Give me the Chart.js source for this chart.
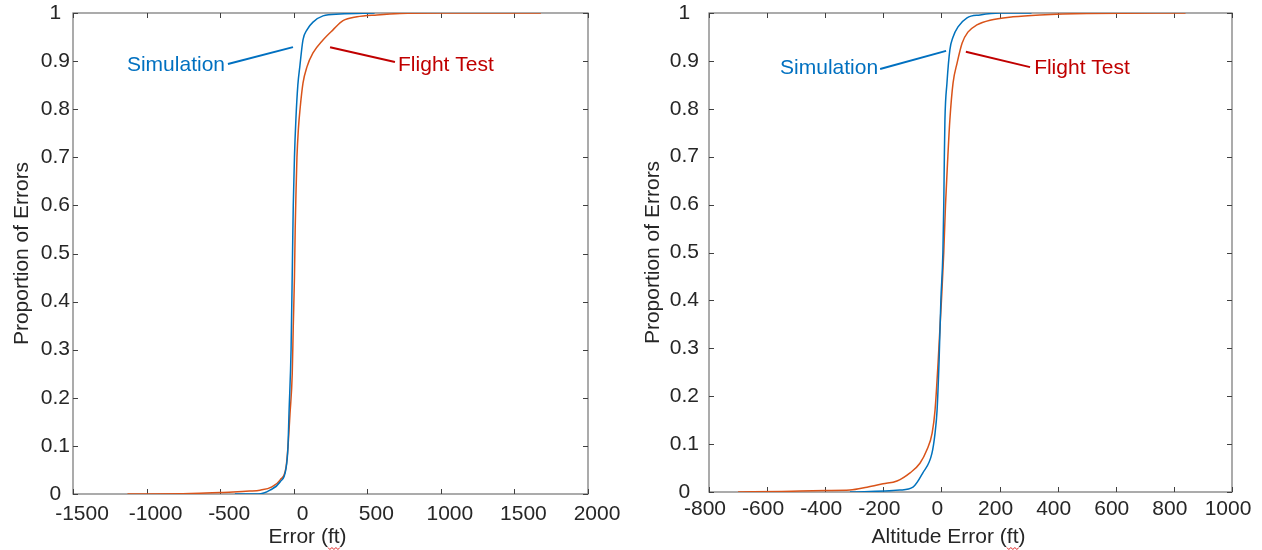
<!DOCTYPE html>
<html>
<head>
<meta charset="utf-8">
<script src="https://cdn.jsdelivr.net/npm/chart.js"></script>
<style>
  body { margin: 0; background: #fff; }
  #wrap { position: relative; width: 1262px; height: 550px; }
  #left { position: absolute; left: 0; top: 0; }
  #right { position: absolute; left: 640px; top: 0; }
</style>
</head>
<body>
<div id="wrap">
  <canvas id="left" width="640" height="550"></canvas>
  <canvas id="right" width="622" height="550"></canvas>
</div>
<script>
// left panel: error (ft) vs cumulative proportion
const simErrX = [-400, -242, -161, -93, -52, -39, -32, -18, -8, -3, 5, 15, 28, 42, 63, 90, 131, 199, 315, 550];
const simErrP = [0, 0, 0.008, 0.025, 0.054, 0.098, 0.168, 0.3, 0.5, 0.6, 0.7, 0.78, 0.85, 0.89, 0.944, 0.965, 0.981, 0.994, 0.998, 1];
const ftErrX = [-1130, -700, -500, -412, -300, -229, -148, -93, -52, -39, -25, -10, -3, 5, 10, 15, 22, 32, 43, 63, 90, 131, 199, 267, 335, 430, 566, 722, 1000, 1680];
const ftErrP = [0, 0.001, 0.003, 0.004, 0.006, 0.008, 0.015, 0.029, 0.056, 0.098, 0.168, 0.25, 0.35, 0.45, 0.55, 0.62, 0.7, 0.76, 0.8, 0.854, 0.888, 0.917, 0.944, 0.965, 0.984, 0.992, 0.996, 0.999, 1, 1];

// right panel: altitude error (ft)
const simAltX = [-315, -143, -98, -64, -33, -22, -15, -8, -2, 5, 8, 10, 12, 19, 29, 40, 57, 88, 133, 201, 310];
const simAltP = [0, 0.004, 0.01, 0.04, 0.08, 0.123, 0.171, 0.276, 0.4, 0.5, 0.6, 0.7, 0.777, 0.854, 0.923, 0.95, 0.971, 0.99, 0.996, 1, 1];
const ftAltX = [-700, -550, -487, -400, -315, -256, -201, -153, -108, -74, -50, -32, -22, -11, 0, 8, 14, 22, 29, 40, 54, 71, 91, 122, 167, 246, 339, 500, 840];
const ftAltP = [0, 0.001, 0.002, 0.003, 0.004, 0.01, 0.017, 0.023, 0.04, 0.06, 0.088, 0.123, 0.171, 0.276, 0.4, 0.5, 0.6, 0.7, 0.777, 0.854, 0.896, 0.937, 0.96, 0.975, 0.985, 0.992, 0.996, 0.999, 1];

const FONT = "'Liberation Sans', Arial, sans-serif";
const TXT = '#262626';
const BLUE = '#0072BD';
const ORANGE = '#D95319';

const toPoints = (xs, ps) => xs.map((v, i) => ({x: v, y: ps[i]}));

// box, inward ticks, callouts and x title (matlab look)
const framePlugin = {
    id: 'frame',
    beforeDatasetsDraw(chart) {
        const {ctx, chartArea: a, scales: {x, y}} = chart;
        ctx.save();
        ctx.strokeStyle = '#7f7f7f';
        ctx.lineWidth = 1.3;
        ctx.strokeRect(a.left, a.top, a.right - a.left, a.bottom - a.top);
        ctx.strokeStyle = '#404040';
        ctx.lineWidth = 1;
        ctx.beginPath();
        x.ticks.forEach(t => {
            const px = Math.round(x.getPixelForValue(t.value)) + 0.5;
            ctx.moveTo(px, a.bottom); ctx.lineTo(px, a.bottom - 5);
            ctx.moveTo(px, a.top); ctx.lineTo(px, a.top + 5);
        });
        y.ticks.forEach(t => {
            const py = Math.round(y.getPixelForValue(t.value)) + 0.5;
            ctx.moveTo(a.left, py); ctx.lineTo(a.left + 5, py);
            ctx.moveTo(a.right, py); ctx.lineTo(a.right - 5, py);
        });
        ctx.stroke();
        ctx.restore();
    },
    afterDraw(chart, args, opts) {
        const {ctx, chartArea: a, scales: {x, y}} = chart;
        ctx.save();
        ctx.font = '21px ' + FONT;
        ctx.textBaseline = 'middle';
        (opts.notes || []).forEach(n => {
            ctx.strokeStyle = n.color;
            ctx.lineWidth = 2;
            ctx.beginPath();
            ctx.moveTo(x.getPixelForValue(n.line[0]), y.getPixelForValue(n.line[1]));
            ctx.lineTo(x.getPixelForValue(n.line[2]), y.getPixelForValue(n.line[3]));
            ctx.stroke();
            ctx.fillStyle = n.color;
            ctx.textAlign = n.align;
            ctx.fillText(n.text, x.getPixelForValue(n.at[0]), y.getPixelForValue(n.at[1]));
        });
        // x axis title
        ctx.fillStyle = TXT;
        ctx.textAlign = 'center';
        const cx = (a.left + a.right) / 2 + opts.titleShift;
        ctx.fillText(opts.xTitle, cx, 537);
        // spell-check squiggle under "ft)"
        const w = ctx.measureText(opts.xTitle).width;
        const tail = ctx.measureText('ft)').width;
        const x1 = cx + w / 2 - tail, x2 = cx + w / 2 - 5;
        ctx.strokeStyle = '#e02020';
        ctx.lineWidth = 1;
        ctx.beginPath();
        for (let px = x1, k = 0; px <= x2; px += 2, k++) {
            const py = 548 + (k % 2 ? 1.5 : -0.5);
            if (k === 0) ctx.moveTo(px, py); else ctx.lineTo(px, py);
        }
        ctx.stroke();
        ctx.restore();
    }
};

function makeChart(id, cfg) {
    const config = {
        type: 'line',
        data: {
            datasets: [
                {
                    label: 'Simulation',
                    data: toPoints(cfg.simX, cfg.simP),
                    borderColor: BLUE,
                    borderWidth: 1.5,
                    pointRadius: 0,
                    cubicInterpolationMode: 'monotone'
                },
                {
                    label: 'Flight Test',
                    data: toPoints(cfg.ftX, cfg.ftP),
                    borderColor: ORANGE,
                    borderWidth: 1.5,
                    pointRadius: 0,
                    cubicInterpolationMode: 'monotone'
                }
            ]
        },
        options: {
            responsive: false,
            animation: false,
            layout: {padding: {left: 0, right: cfg.padRight, top: 0, bottom: 0}},
            plugins: {
                legend: {display: false},
                tooltip: {enabled: false},
                frame: {notes: cfg.notes, xTitle: cfg.xTitle, titleShift: cfg.titleShift}
            },
            scales: {
                x: {
                    type: 'linear',
                    min: cfg.xMin,
                    max: cfg.xMax,
                    grid: {display: false, drawTicks: false},
                    border: {display: false},
                    ticks: {
                        stepSize: cfg.xStep,
                        color: TXT,
                        font: {family: FONT, size: 21},
                        padding: cfg.xPad,
                        labelOffset: cfg.labelShift,
                        maxRotation: 0,
                        callback: v => String(v)
                    },
                    afterFit: s => { s.height = cfg.xHeight; }
                },
                y: {
                    min: 0,
                    max: 1,
                    grid: {display: false, drawTicks: false},
                    border: {display: false},
                    ticks: {
                        stepSize: 0.1,
                        color: TXT,
                        font: {family: FONT, size: 21},
                        padding: cfg.yPad,
                        crossAlign: 'center',
                        callback: v => String(Number(v.toFixed(1)))
                    },
                    title: {
                        display: true,
                        text: 'Proportion of Errors',
                        color: TXT,
                        font: {family: FONT, size: 21},
                        padding: {top: cfg.yTitlePad, bottom: 0}
                    },
                    afterFit: s => {
                        s.width = cfg.yWidth;
                        s.paddingTop = 13;
                        s.paddingBottom = 0;
                    }
                }
            }
        },
        plugins: [framePlugin]
    };
    return new Chart(document.getElementById(id), config);
}

makeChart('left', {
    simX: simErrX, simP: simErrP, ftX: ftErrX, ftP: ftErrP,
    xMin: -1500, xMax: 2000, xStep: 500,
    padRight: 52, yWidth: 73, xHeight: 56, xPad: 8, yPad: 3, yTitlePad: 10,
    labelShift: 9, xTitle: 'Error (ft)', titleShift: -23,
    notes: [
        {text: 'Simulation', color: '#0070C0', align: 'right', at: [-467, 0.892], line: [-447, 0.894, -5, 0.929]},
        {text: 'Flight Test', color: '#C00000', align: 'left', at: [709, 0.892], line: [247, 0.929, 688, 0.898]}
    ]
});

makeChart('right', {
    simX: simAltX, simP: simAltP, ftX: ftAltX, ftP: ftAltP,
    xMin: -800, xMax: 1000, xStep: 200,
    padRight: 30, yWidth: 69, xHeight: 58, xPad: 5, yPad: 10, yTitlePad: 1,
    labelShift: -4, xTitle: 'Altitude Error (ft)', titleShift: -22,
    notes: [
        {text: 'Simulation', color: '#0070C0', align: 'right', at: [-218, 0.885], line: [-211, 0.883, 16, 0.921]},
        {text: 'Flight Test', color: '#C00000', align: 'left', at: [319, 0.885], line: [84, 0.919, 305, 0.887]}
    ]
});
</script>
</body>
</html>
